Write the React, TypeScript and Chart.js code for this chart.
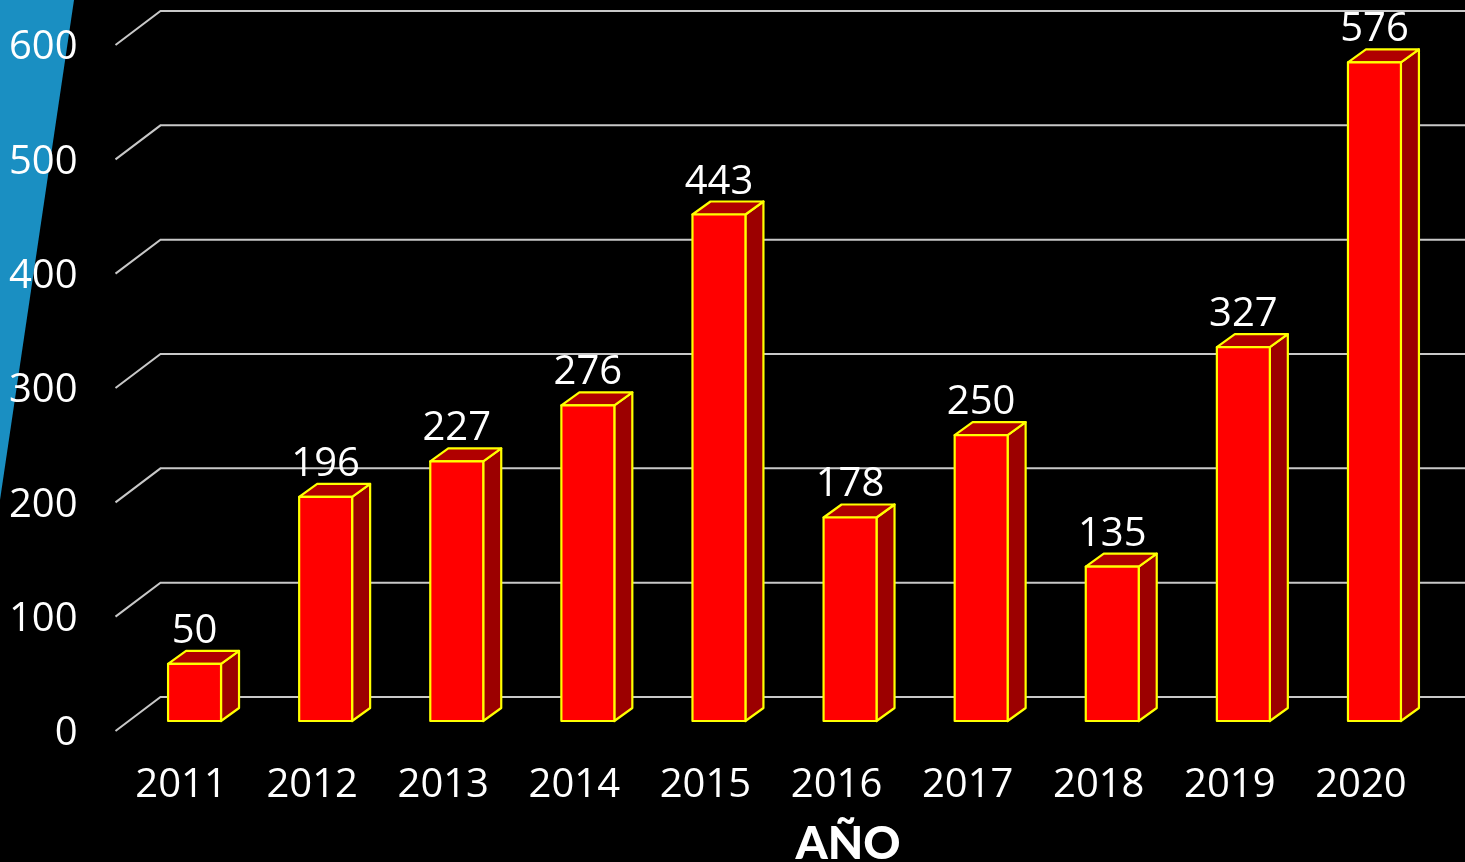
import React, { useEffect, useRef } from "react";
import { Chart, registerables } from "chart.js";

Chart.register(...registerables);

const years: string[] = ["2011", "2012", "2013", "2014", "2015", "2016", "2017", "2018", "2019", "2020"];
const counts: number[] = [50, 196, 227, 276, 443, 178, 250, 135, 327, 576];
const yMin = 0;
const yMax = 600;
const yStep = 100;
const xTitle = "AÑO";

const NUM_FONT = '"Open Sans", sans-serif';
const NUM_SIZE = 40;
const W = 1465;
const H = 862;

// perspective geometry (pixels)
const WALL_DX = 45;
const WALL_DY = 34;
const BAR_OFF_X = 13.5;
const BAR_OFF_Y = 10;
const BAR_DX = 18;
const BAR_DY = 13;

const bgPlugin = {
  id: "bgShape",
  beforeDraw(chart: any) {
    const ctx = chart.ctx;
    ctx.save();
    ctx.fillStyle = "#000000";
    ctx.fillRect(0, 0, chart.width, chart.height);
    ctx.fillStyle = "#1A8FC2";
    ctx.beginPath();
    ctx.moveTo(0, 0);
    ctx.lineTo(74, 0);
    ctx.lineTo(0, 500);
    ctx.closePath();
    ctx.fill();
    ctx.restore();
  },
};

const gridPlugin = {
  id: "grid3d",
  beforeDatasetsDraw(chart: any) {
    const ctx = chart.ctx;
    const ys = chart.scales.y;
    const left = chart.chartArea.left;
    ctx.save();
    ctx.strokeStyle = "#C8C8C8";
    ctx.lineWidth = 2;
    ctx.lineJoin = "miter";
    ys.ticks.forEach((t: any) => {
      const yf = ys.getPixelForValue(t.value);
      ctx.beginPath();
      ctx.moveTo(left, yf);
      ctx.lineTo(left + WALL_DX, yf - WALL_DY);
      ctx.lineTo(chart.width, yf - WALL_DY);
      ctx.stroke();
    });
    ctx.restore();
  },
};

const bar3dPlugin = {
  id: "bar3d",
  afterDatasetsDraw(chart: any) {
    const ctx = chart.ctx;
    const meta = chart.getDatasetMeta(0);
    const data = chart.data.datasets[0].data;
    ctx.save();
    meta.data.forEach((el: any, i: number) => {
      const cx = el.x + BAR_OFF_X;
      const top = el.y - BAR_OFF_Y;
      const bottom = el.base - BAR_OFF_Y;
      const w = el.width;
      const l = cx - w / 2;
      const r = cx + w / 2;
      ctx.lineWidth = 2.2;
      ctx.lineJoin = "round";
      ctx.strokeStyle = "#FFFF00";
      // side
      ctx.fillStyle = "#9C0000";
      ctx.beginPath();
      ctx.moveTo(r, top);
      ctx.lineTo(r + BAR_DX, top - BAR_DY);
      ctx.lineTo(r + BAR_DX, bottom - BAR_DY);
      ctx.lineTo(r, bottom);
      ctx.closePath();
      ctx.fill();
      ctx.stroke();
      // top
      ctx.fillStyle = "#B00000";
      ctx.beginPath();
      ctx.moveTo(l, top);
      ctx.lineTo(l + BAR_DX, top - BAR_DY);
      ctx.lineTo(r + BAR_DX, top - BAR_DY);
      ctx.lineTo(r, top);
      ctx.closePath();
      ctx.fill();
      ctx.stroke();
      // front
      ctx.fillStyle = "#FF0000";
      ctx.beginPath();
      ctx.rect(l, top, w, bottom - top);
      ctx.fill();
      ctx.stroke();
      // value label
      ctx.fillStyle = "#FFFFFF";
      ctx.font = `${NUM_SIZE}px ${NUM_FONT}`;
      ctx.textAlign = "center";
      ctx.textBaseline = "alphabetic";
      ctx.fillText(String(data[i]), cx, top - 21);
    });
    ctx.restore();
  },
};

const titlePlugin = {
  id: "axisTitle",
  afterDraw(chart: any) {
    const ctx = chart.ctx;
    ctx.save();
    ctx.fillStyle = "#FFFFFF";
    ctx.font = `900 46px Lato, "DejaVu Sans", sans-serif`;
    ctx.textAlign = "center";
    ctx.textBaseline = "alphabetic";
    ctx.fillText(xTitle, 848, 859);
    ctx.restore();
  },
};

export default function App() {
  const ref = useRef<HTMLCanvasElement | null>(null);

  useEffect(() => {
    document.body.style.margin = "0";
    document.body.style.background = "#000";
    const canvas = ref.current;
    if (!canvas) return;
    const chart = new Chart(canvas, {
      type: "bar",
      data: {
        labels: years,
        datasets: [
          {
            data: counts,
            backgroundColor: "rgba(0,0,0,0)",
            borderWidth: 0,
            barPercentage: 0.404,
            categoryPercentage: 1,
          },
        ],
      },
      options: {
        animation: false,
        responsive: true,
        maintainAspectRatio: false,
        layout: { padding: { top: 45, right: 38.5, bottom: 0, left: 0 } },
        plugins: {
          legend: { display: false },
          tooltip: { enabled: false },
        },
        scales: {
          x: {
            grid: { display: false, drawTicks: false },
            border: { display: false },
            ticks: {
              color: "#FFFFFF",
              font: { family: NUM_FONT, size: NUM_SIZE },
              padding: 31,
              maxRotation: 0,
              autoSkip: false,
            },
            title: { display: false },
            afterFit: (s: any) => {
              s.height = 131;
              s.paddingLeft = 0;
              s.paddingRight = 0;
            },
          },
          y: {
            min: yMin,
            max: yMax,
            grid: { display: false, drawTicks: false },
            border: { display: false },
            ticks: {
              stepSize: yStep,
              color: "#FFFFFF",
              font: { family: NUM_FONT, size: NUM_SIZE },
              padding: 38,
              labelOffset: 3,
            },
            afterFit: (s: any) => {
              s.width = 115.5;
              s.paddingTop = 0;
              s.paddingBottom = 0;
            },
          },
        },
      },
      plugins: [bgPlugin, gridPlugin, bar3dPlugin, titlePlugin],
    });
    return () => chart.destroy();
  }, []);

  return (
    <div style={{ position: "fixed", left: 0, top: 0, width: W, height: H, background: "#000" }}>
      <canvas ref={ref} />
    </div>
  );
}
